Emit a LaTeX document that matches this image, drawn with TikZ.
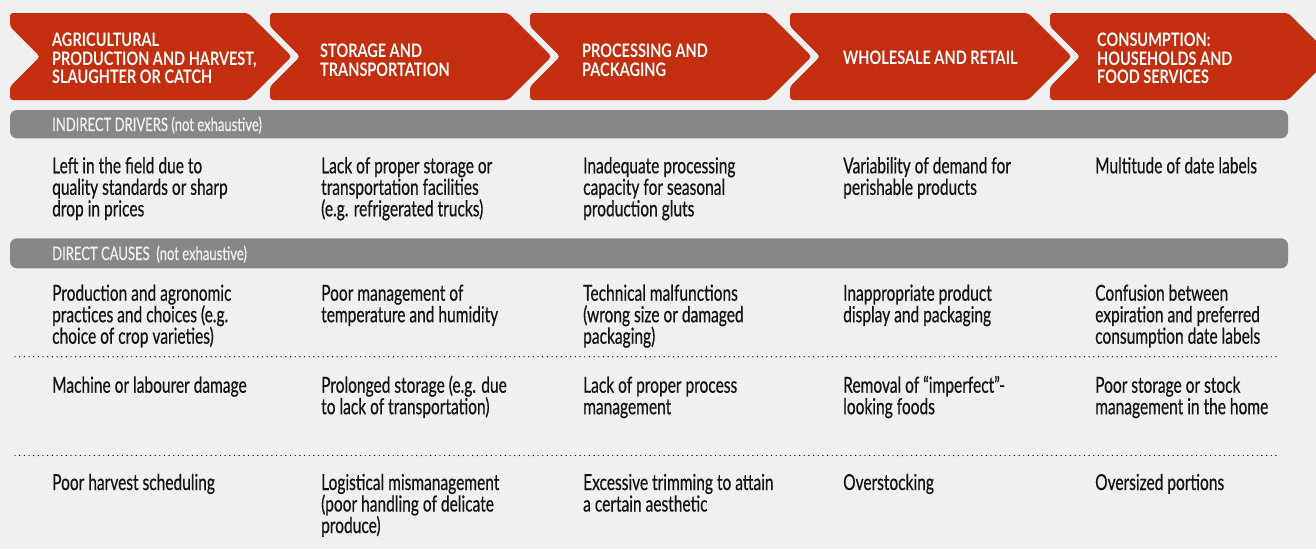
\documentclass[tikz,border=0pt]{standalone}
\usepackage{fontspec}
\setmainfont{Lato}[FakeStretch=0.705, FakeBold=0.5]
\newfontfamily\stagefont{Lato}[FakeStretch=0.78]
\usepackage{xcolor}
\usetikzlibrary{calc}

\definecolor{stagered}{HTML}{C22E0E}
\definecolor{bandgray}{HTML}{878787}
\definecolor{paper}{HTML}{F0F0F0}
\definecolor{ink}{HTML}{141414}

% base west = baseline of the last line
\tikzstyle{stage} = [fill=stagered, rounded corners=3pt]
\tikzstyle{stagetext} = [anchor=base west, align=left, inner sep=0pt, text=white,
	font=\stagefont\bfseries\fontsize{18.6}{18.3}\selectfont]
\tikzstyle{band} = [fill=bandgray, rounded corners=7pt]
\tikzstyle{bandtext} = [anchor=base west, inner sep=0pt, text=paper,
	font=\fontsize{18.5}{18}\selectfont]
\tikzstyle{cell} = [anchor=base west, align=left, inner sep=0pt, text=ink,
	font=\fontsize{22}{21.5}\selectfont]
\tikzstyle{rowline} = [ink, line width=1.4pt, dash pattern=on 0pt off 4.67pt, line cap=round]
\newcommand{\drawstage}[1]{\fill[stage] (#1,13) -- ++(238,0) -- ++(43.5,43.5) -- ++(-43.5,43.5)
	-- ++(-238,0) -- ++(0,-13.5) -- ++(30,-30) -- ++(-30,-30) -- cycle}

\begin{document}
\lineskiplimit=-20pt
\begin{tikzpicture}[x=1pt, y=-1pt]
			\useasboundingbox (0,0) rectangle (1316,549);
			\fill[paper] (0,0) rectangle (1316,549);
			\clip (0,0) rectangle (1316,549);
			
			%stages
			\drawstage{10};
			\node[stagetext] (agri) at (52,83.3) {AGRICULTURAL\\PRODUCTION AND HARVEST,\\SLAUGHTER OR CATCH};
			\drawstage{270};
			\node[stagetext] (storage) at (320,76) {STORAGE AND\\TRANSPORTATION};
			\drawstage{530};
			\node[stagetext] (processing) at (582,76) {PROCESSING AND\\PACKAGING};
			\drawstage{790};
			\node[stagetext] (retail) at (843,64.3) {WHOLESALE AND RETAIL};
			\drawstage{1050};
			\node[stagetext] (consumption) at (1097,83.3) {CONSUMPTION:\\HOUSEHOLDS AND\\FOOD SERVICES};
			
			%indirect drivers
			\fill[band] (10,110) rectangle (1288,138.3);
			\node[bandtext] (indirect) at (52,131) {INDIRECT DRIVERS (not exhaustive)};
			\node[cell] (ind1) at (52,216.3) {Left in the field due to\\quality standards or sharp\\drop in prices};
			\node[cell] (ind2) at (321,216.3) {Lack of proper storage or\\transportation facilities\\(e.g. refrigerated trucks)};
			\node[cell] (ind3) at (583,216.3) {Inadequate processing\\capacity for seasonal\\production gluts};
			\node[cell] (ind4) at (843,194.8) {Variability of demand for\\perishable products};
			\node[cell] (ind5) at (1095,173.3) {Multitude of date labels};
			
			%direct causes
			\fill[band] (10,238.3) rectangle (1288,268.3);
			\node[bandtext] (direct) at (52,260) {DIRECT CAUSES\ \ (not exhaustive)};
			\node[cell] (dirA1) at (52,343.7) {Production and agronomic\\practices and choices (e.g.\\choice of crop varieties)};
			\node[cell] (dirA2) at (321,322.2) {Poor management of\\temperature and humidity};
			\node[cell] (dirA3) at (583,343.7) {Technical malfunctions\\(wrong size or damaged\\packaging)};
			\node[cell] (dirA4) at (843,322.2) {Inappropriate product\\display and packaging};
			\node[cell] (dirA5) at (1095,343.7) {Confusion between\\expiration and preferred\\consumption date labels};
			\draw[rowline] (15,356.7) -- (1278,356.7);
			
			\node[cell] (dirB1) at (52,392.7) {Machine or labourer damage};
			\node[cell] (dirB2) at (321,414.2) {Prolonged storage (e.g. due\\to lack of transportation)};
			\node[cell] (dirB3) at (583,414.2) {Lack of proper process\\management};
			\node[cell] (dirB4) at (843,414.2) {Removal of “imperfect”-\\looking foods};
			\node[cell] (dirB5) at (1095,414.2) {Poor storage or stock\\management in the home};
			\draw[rowline] (15,455.5) -- (1278,455.5);
			
			\node[cell] (dirC1) at (52,490) {Poor harvest scheduling};
			\node[cell] (dirC2) at (321,533) {Logistical mismanagement\\(poor handling of delicate\\produce)};
			\node[cell] (dirC3) at (583,511.5) {Excessive trimming to attain\\a certain aesthetic};
			\node[cell] (dirC4) at (843,490) {Overstocking};
			\node[cell] (dirC5) at (1095,490) {Oversized portions};
		\end{tikzpicture}
\end{document}
